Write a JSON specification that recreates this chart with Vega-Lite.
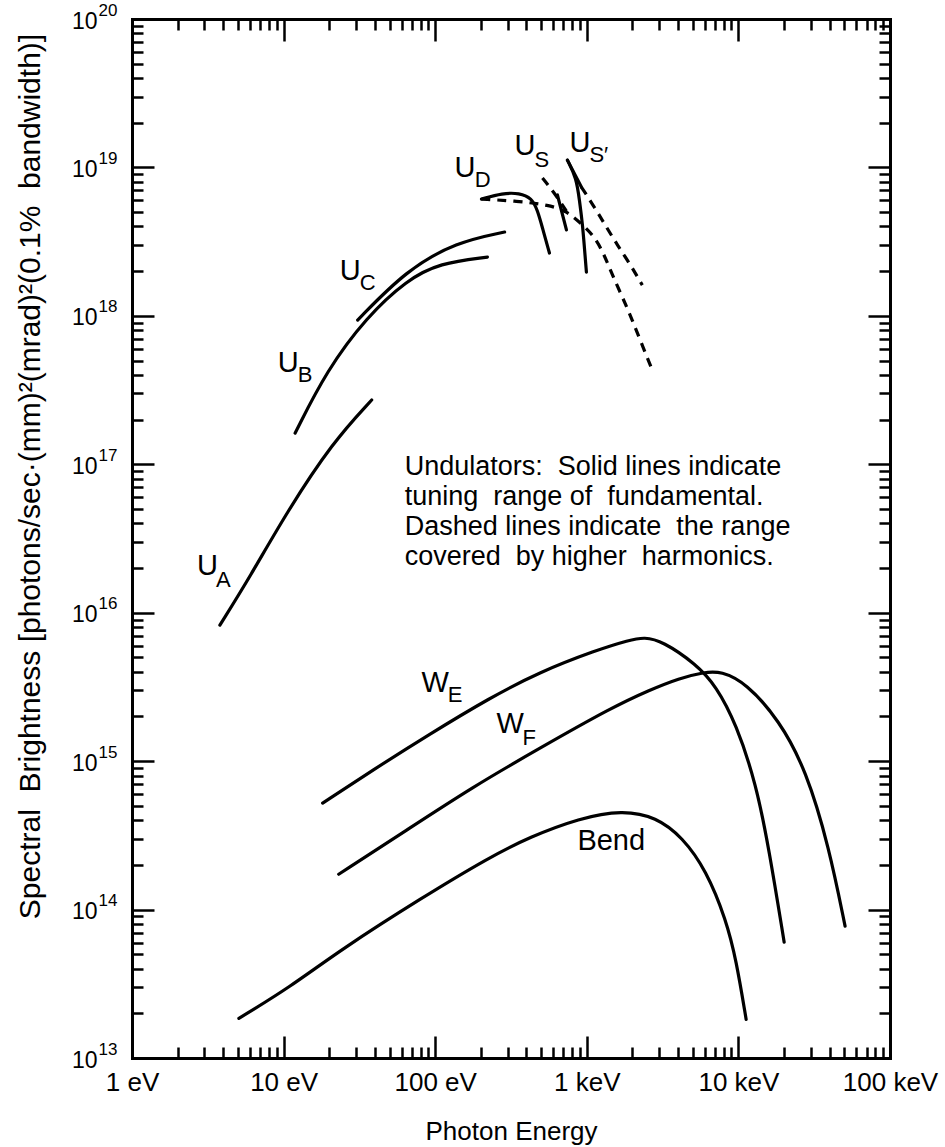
{
  "$schema": "https://vega.github.io/schema/vega-lite/v6.json",
  "width": 758,
  "height": 1039,
  "autosize": "none",
  "padding": {"left": 132, "top": 19, "right": 55, "bottom": 89},
  "background": "white",
  "config": {
    "view": {"stroke": null},
    "font": "Liberation Sans",
    "axis": {"grid": false, "tickColor": "black", "domainColor": "black", "labelColor": "black", "titleColor": "black", "tickCap": "butt", "domainCap": "square", "labelFont": "Liberation Sans", "titleFont": "Liberation Sans"}
  },
  "datasets": {
    "solidU": [
      {"curve": "UA", "E": 3.8, "B": 8.25e15},
      {"curve": "UA", "E": 5.99, "B": 1.74e16},
      {"curve": "UA", "E": 10.5, "B": 4.76e16},
      {"curve": "UA", "E": 21.1, "B": 1.41e17},
      {"curve": "UA", "E": 38.1, "B": 2.71e17},
      {"curve": "UB", "E": 11.9, "B": 1.62e17},
      {"curve": "UB", "E": 19.3, "B": 4.31e17},
      {"curve": "UB", "E": 35.3, "B": 9.82e17},
      {"curve": "UB", "E": 64.8, "B": 1.74e18},
      {"curve": "UB", "E": 107, "B": 2.27e18},
      {"curve": "UB", "E": 221, "B": 2.49e18},
      {"curve": "UC", "E": 30.8, "B": 9.37e17},
      {"curve": "UC", "E": 64.8, "B": 2.04e18},
      {"curve": "UC", "E": 138, "B": 3.14e18},
      {"curve": "UC", "E": 287, "B": 3.67e18},
      {"curve": "UD", "E": 202, "B": 6.12e18},
      {"curve": "UD", "E": 278, "B": 6.72e18},
      {"curve": "UD", "E": 360, "B": 6.72e18},
      {"curve": "UD", "E": 432, "B": 6.22e18},
      {"curve": "UD", "E": 473, "B": 5.16e18},
      {"curve": "UD", "E": 510, "B": 3.91e18},
      {"curve": "UD", "E": 567, "B": 2.65e18},
      {"curve": "US", "E": 640, "B": 6.52e18},
      {"curve": "US", "E": 734, "B": 3.79e18},
      {"curve": "USp", "E": 745, "B": 1.12e19},
      {"curve": "USp", "E": 854, "B": 8.48e18},
      {"curve": "USp", "E": 894, "B": 6.03e18},
      {"curve": "USp", "E": 935, "B": 4.22e18},
      {"curve": "USp", "E": 964, "B": 2.91e18},
      {"curve": "USp", "E": 994, "B": 1.97e18},
      {"curve": "USpTip", "E": 745, "B": 1.12e19},
      {"curve": "USpTip", "E": 921, "B": 7.38e18}
    ],
    "solidW": [
      {"curve": "WE", "E": 18.1, "B": 5.21e14},
      {"curve": "WE", "E": 38.7, "B": 8.7e14},
      {"curve": "WE", "E": 91.9, "B": 1.52e15},
      {"curve": "WE", "E": 228, "B": 2.66e15},
      {"curve": "WE", "E": 487, "B": 3.98e15},
      {"curve": "WE", "E": 1157, "B": 5.6e15},
      {"curve": "WE", "E": 1910, "B": 6.54e15},
      {"curve": "WE", "E": 2395, "B": 6.85e15},
      {"curve": "WE", "E": 3148, "B": 6.44e15},
      {"curve": "WE", "E": 5272, "B": 4.5e15},
      {"curve": "WE", "E": 7141, "B": 3.2e15},
      {"curve": "WE", "E": 9677, "B": 1.78e15},
      {"curve": "WE", "E": 13100, "B": 7.0e14},
      {"curve": "WE", "E": 15960, "B": 2.51e14},
      {"curve": "WE", "E": 20040, "B": 6.03e13},
      {"curve": "WF", "E": 23.1, "B": 1.73e14},
      {"curve": "WF", "E": 64.8, "B": 3.43e14},
      {"curve": "WF", "E": 176, "B": 6.68e14},
      {"curve": "WF", "E": 487, "B": 1.22e15},
      {"curve": "WF", "E": 1475, "B": 2.31e15},
      {"curve": "WF", "E": 2585, "B": 3.01e15},
      {"curve": "WF", "E": 4074, "B": 3.62e15},
      {"curve": "WF", "E": 5953, "B": 3.98e15},
      {"curve": "WF", "E": 7703, "B": 4.04e15},
      {"curve": "WF", "E": 11250, "B": 3.36e15},
      {"curve": "WF", "E": 18570, "B": 1.89e15},
      {"curve": "WF", "E": 27980, "B": 8.69e14},
      {"curve": "WF", "E": 39640, "B": 2.63e14},
      {"curve": "WF", "E": 50550, "B": 7.73e13},
      {"curve": "Bend", "E": 5.07, "B": 1.85e13},
      {"curve": "Bend", "E": 11.0, "B": 3.0e13},
      {"curve": "Bend", "E": 23.5, "B": 5.32e13},
      {"curve": "Bend", "E": 82.6, "B": 1.21e14},
      {"curve": "Bend", "E": 228, "B": 2.25e14},
      {"curve": "Bend", "E": 419, "B": 3.08e14},
      {"curve": "Bend", "E": 894, "B": 4.13e14},
      {"curve": "Bend", "E": 1717, "B": 4.68e14},
      {"curve": "Bend", "E": 2873, "B": 4.2e14},
      {"curve": "Bend", "E": 4264, "B": 3.08e14},
      {"curve": "Bend", "E": 6134, "B": 1.84e14},
      {"curve": "Bend", "E": 8310, "B": 8.49e13},
      {"curve": "Bend", "E": 9677, "B": 4.56e13},
      {"curve": "Bend", "E": 11250, "B": 1.82e13}
    ],
    "dashed": [
      {"curve": "UD_h", "E": 202, "B": 6.12e18},
      {"curve": "UD_h", "E": 344, "B": 5.94e18},
      {"curve": "UD_h", "E": 567, "B": 5.58e18},
      {"curve": "UD_h", "E": 734, "B": 5.08e18},
      {"curve": "UD_h", "E": 894, "B": 4.29e18},
      {"curve": "UD_h", "E": 1122, "B": 3.45e18},
      {"curve": "UD_h", "E": 1306, "B": 2.57e18},
      {"curve": "UD_h", "E": 1475, "B": 1.88e18},
      {"curve": "UD_h", "E": 1717, "B": 1.34e18},
      {"curve": "UD_h", "E": 1996, "B": 9.37e17},
      {"curve": "UD_h", "E": 2290, "B": 6.56e17},
      {"curve": "UD_h", "E": 2705, "B": 4.31e17},
      {"curve": "US_h", "E": 510, "B": 8.48e18},
      {"curve": "US_h", "E": 612, "B": 6.72e18},
      {"curve": "US_h", "E": 734, "B": 5.08e18},
      {"curve": "USp_h", "E": 921, "B": 7.38e18},
      {"curve": "USp_h", "E": 1122, "B": 5.41e18},
      {"curve": "USp_h", "E": 1346, "B": 3.97e18},
      {"curve": "USp_h", "E": 1592, "B": 3.0e18},
      {"curve": "USp_h", "E": 1910, "B": 2.27e18},
      {"curve": "USp_h", "E": 2324, "B": 1.61e18}
    ],
    "mainLabels": [
      {"text": "U", "E": 2.68, "B": 1.79e16},
      {"text": "U", "E": 9.16, "B": 4.18e17},
      {"text": "U", "E": 23.5, "B": 1.74e18},
      {"text": "U", "E": 134, "B": 8.61e18},
      {"text": "U", "E": 333, "B": 1.21e19},
      {"text": "U", "E": 768, "B": 1.27e19},
      {"text": "W", "E": 81.3, "B": 2.92e15},
      {"text": "W", "E": 254, "B": 1.54e15},
      {"text": "Bend", "E": 867, "B": 2.51e14}
    ],
    "subLabels": [
      {"text": "A", "E": 3.58, "B": 1.49e16},
      {"text": "B", "E": 12.4, "B": 3.58e17},
      {"text": "C", "E": 31.8, "B": 1.49e18},
      {"text": "D", "E": 182, "B": 7.38e18},
      {"text": "S", "E": 452, "B": 1.006e19},
      {"text": "S′", "E": 1040, "B": 1.088e19},
      {"text": "E", "E": 121, "B": 2.5e15},
      {"text": "F", "E": 377, "B": 1.28e15}
    ],
    "note": [
      {"text": "Undulators:\u00a0 Solid lines indicate\ntuning\u00a0 range of\u00a0 fundamental.\nDashed lines indicate\u00a0 the range\ncovered\u00a0 by higher\u00a0 harmonics.", "E": 62.9, "B": 8.46e16}
    ]
  },
  "layer": [
    {
      "data": {"name": "solidU"},
      "mark": {"type": "line", "stroke": "black", "strokeWidth": 3.2, "interpolate": "basis", "strokeCap": "round"},
      "encoding": {
        "x": {"field": "E", "type": "quantitative",
          "scale": {"type": "log", "domain": [1, 100000], "nice": false},
          "axis": {"orient": "bottom", "values": [1, 10, 100, 1000, 10000, 100000], "ticks": false, "domainWidth": 3,
            "labelExpr": "round(log(datum.value)/LN10) == 0 ? '1 eV' : round(log(datum.value)/LN10) == 1 ? '10 eV' : round(log(datum.value)/LN10) == 2 ? '100 eV' : round(log(datum.value)/LN10) == 3 ? '1 keV' : round(log(datum.value)/LN10) == 4 ? '10 keV' : '100 keV'",
            "labelFontSize": 26, "labelPadding": 11, "labelFlush": false, "labelOverlap": false,
            "title": "Photon Energy", "titleFontSize": 26, "titleFontWeight": "normal", "titleX": 379, "titleY": 81, "titleAlign": "center", "titleBaseline": "alphabetic"}},
        "y": {"field": "B", "type": "quantitative",
          "scale": {"type": "log", "domain": [1e13, 1e20], "nice": false},
          "axis": {"orient": "left", "values": [1e13, 1e14, 1e15, 1e16, 1e17, 1e18, 1e19, 1e20], "ticks": false, "domainWidth": 3,
            "labelExpr": "'10'", "labelFontSize": 23, "labelPadding": 35, "labelOffset": 2, "labelBaseline": "middle", "labelFlush": false, "labelOverlap": false,
            "title": "Spectral\u00a0 Brightness [photons/sec·(mm)²(mrad)²(0.1%\u00a0 bandwidth)]", "titleFontSize": 30, "titleFontWeight": "normal",
            "titleX": -93, "titleY": 457, "titleAngle": -90, "titleAlign": "center", "titleBaseline": "alphabetic"}},
        "detail": {"field": "curve", "type": "nominal"}
      }
    },
    {
      "data": {"name": "solidW"},
      "mark": {"type": "line", "stroke": "black", "strokeWidth": 3.2, "interpolate": "basis", "strokeCap": "round"},
      "encoding": {
        "x": {"field": "E", "type": "quantitative",
          "scale": {"type": "log", "domain": [1, 100000], "nice": false},
          "axis": {"orient": "bottom", "values": [10, 100, 1000, 10000], "tickSize": -22, "tickWidth": 2.5, "domain": false, "labels": false, "title": null}},
        "y": {"field": "B", "type": "quantitative",
          "scale": {"type": "log", "domain": [1e13, 1e20], "nice": false},
          "axis": {"orient": "left", "values": [1e14, 1e15, 1e16, 1e17, 1e18, 1e19], "tickSize": -22, "tickWidth": 2.5, "domain": false, "labels": false, "title": null}},
        "detail": {"field": "curve", "type": "nominal"}
      }
    },
    {
      "data": {"name": "dashed"},
      "mark": {"type": "line", "stroke": "black", "strokeWidth": 3.2, "interpolate": "basis", "strokeDash": [9, 7]},
      "encoding": {
        "x": {"field": "E", "type": "quantitative",
          "scale": {"type": "log", "domain": [1, 100000], "nice": false},
          "axis": {"orient": "bottom", "values": [2,3,4,5,6,7,8,9,20,30,40,50,60,70,80,90,200,300,400,500,600,700,800,900,2000,3000,4000,5000,6000,7000,8000,9000,20000,30000,40000,50000,60000,70000,80000,90000],
            "tickSize": -11, "tickWidth": 2.5, "domain": false, "labels": false, "title": null}},
        "y": {"field": "B", "type": "quantitative",
          "scale": {"type": "log", "domain": [1e13, 1e20], "nice": false},
          "axis": {"orient": "left", "values": [2e13,3e13,4e13,5e13,6e13,7e13,8e13,9e13,2e14,3e14,4e14,5e14,6e14,7e14,8e14,9e14,2e15,3e15,4e15,5e15,6e15,7e15,8e15,9e15,2e16,3e16,4e16,5e16,6e16,7e16,8e16,9e16,2e17,3e17,4e17,5e17,6e17,7e17,8e17,9e17,2e18,3e18,4e18,5e18,6e18,7e18,8e18,9e18,2e19,3e19,4e19,5e19,6e19,7e19,8e19,9e19],
            "tickSize": -11, "tickWidth": 2.5, "domain": false, "labels": false, "title": null}},
        "detail": {"field": "curve", "type": "nominal"}
      }
    },
    {
      "data": {"name": "mainLabels"},
      "mark": {"type": "text", "font": "Liberation Sans", "fontSize": 29, "align": "left", "baseline": "alphabetic", "color": "black"},
      "encoding": {
        "x": {"field": "E", "type": "quantitative",
          "scale": {"type": "log", "domain": [1, 100000], "nice": false},
          "axis": {"orient": "top", "values": [10, 100, 1000, 10000], "tickSize": -22, "tickWidth": 2.5, "domainWidth": 3, "labels": false, "title": null}},
        "y": {"field": "B", "type": "quantitative",
          "scale": {"type": "log", "domain": [1e13, 1e20], "nice": false},
          "axis": {"orient": "right", "values": [1e14, 1e15, 1e16, 1e17, 1e18, 1e19], "tickSize": -22, "tickWidth": 2.5, "domainWidth": 3, "labels": false, "title": null}},
        "text": {"field": "text", "type": "nominal"}
      }
    },
    {
      "data": {"name": "subLabels"},
      "mark": {"type": "text", "font": "Liberation Sans", "fontSize": 22, "align": "left", "baseline": "alphabetic", "color": "black"},
      "encoding": {
        "x": {"field": "E", "type": "quantitative",
          "scale": {"type": "log", "domain": [1, 100000], "nice": false},
          "axis": {"orient": "top", "values": [2,3,4,5,6,7,8,9,20,30,40,50,60,70,80,90,200,300,400,500,600,700,800,900,2000,3000,4000,5000,6000,7000,8000,9000,20000,30000,40000,50000,60000,70000,80000,90000],
            "tickSize": -11, "tickWidth": 2.5, "domain": false, "labels": false, "title": null}},
        "y": {"field": "B", "type": "quantitative",
          "scale": {"type": "log", "domain": [1e13, 1e20], "nice": false},
          "axis": {"orient": "right", "values": [2e13,3e13,4e13,5e13,6e13,7e13,8e13,9e13,2e14,3e14,4e14,5e14,6e14,7e14,8e14,9e14,2e15,3e15,4e15,5e15,6e15,7e15,8e15,9e15,2e16,3e16,4e16,5e16,6e16,7e16,8e16,9e16,2e17,3e17,4e17,5e17,6e17,7e17,8e17,9e17,2e18,3e18,4e18,5e18,6e18,7e18,8e18,9e18,2e19,3e19,4e19,5e19,6e19,7e19,8e19,9e19],
            "tickSize": -11, "tickWidth": 2.5, "domain": false, "labels": false, "title": null}},
        "text": {"field": "text", "type": "nominal"}
      }
    },
    {
      "data": {"name": "note"},
      "mark": {"type": "text", "font": "Liberation Sans", "fontSize": 27, "align": "left", "baseline": "alphabetic", "lineBreak": "\n", "lineHeight": 30, "color": "black"},
      "encoding": {
        "x": {"field": "E", "type": "quantitative", "scale": {"type": "log", "domain": [1, 100000], "nice": false}, "axis": null},
        "y": {"field": "B", "type": "quantitative", "scale": {"type": "log", "domain": [1e13, 1e20], "nice": false},
          "axis": {"orient": "left", "values": [1e13, 1e14, 1e15, 1e16, 1e17, 1e18, 1e19, 1e20], "ticks": false, "domain": false,
            "labelExpr": "'' + round(log(datum.value)/LN10)", "labelFontSize": 17, "labelAlign": "left", "labelPadding": 34, "labelOffset": -9, "labelBaseline": "middle", "labelFlush": false, "labelOverlap": false, "title": null}},
        "text": {"field": "text", "type": "nominal"}
      }
    }
  ],
  "resolve": {"axis": {"x": "independent", "y": "independent"}}
}
